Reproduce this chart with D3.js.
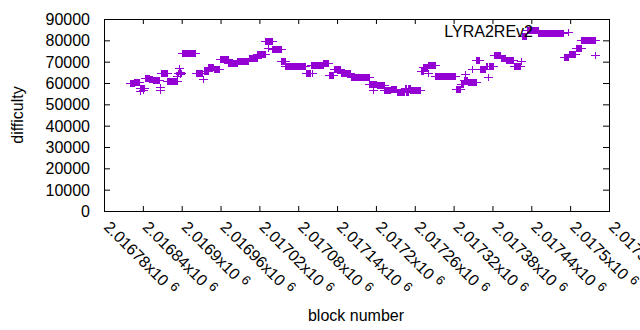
<!DOCTYPE html>
<html><head><meta charset="utf-8">
<script src="https://cdn.jsdelivr.net/npm/d3@7"></script>
<style>
body{margin:0;background:#fff}
svg{display:block}
text{font-family:"Liberation Sans",Arial,sans-serif;font-size:16px;fill:#000}
</style>
</head><body>
<svg width="640" height="330"></svg>
<script>
// ---- data ----
const seriesName = "LYRA2REv2";
const xLabel = "block number";
const yLabel = "difficulty";
const firstBlock = 2016820;          // block number of the first value below (one value per consecutive block)
const difficultyK = [                // difficulty, thousands
  60.1,60.1,60.1,60.1,60.1,60.1,60.1,
  60.7,60.7,60.7,60.7,60.7,60.7,60.7,60.7,
  56.2,57.5,57.5,57.5,57.5,56.7,57.5,57.5,
  62.5,62.5,62.5,62.5,62.5,62.5,62.5,
  62,62,62,62,62,
  61.5,61.5,61.5,61.5,61.5,61.5,61.5,61.5,61.5,61.5,61.5,
  58.1,56.6,
  64.5,64.5,64.5,64.5,64.5,64.5,64.5,64.5,64.5,64.5,
  60.8,60.8,60.8,60.8,60.8,60.8,60.8,60.8,60.8,60.8,60.8,60.8,60.8,60.8,
  60.9,63.5,64.8,64.5,66.8,65,64,64.8,
  74.2,74.2,74.2,74.2,74.2,74.2,74.2,74.2,74.2,74.2,74.2,74.2,74.2,74.2,74.2,74.2,74.2,74.2,74.2,74.2,74.2,74.2,
  64.8,64.8,64.8,64.8,64.8,64.8,64.8,64.8,64.8,64.8,64.8,62.1,
  65.7,65.7,65.7,65.7,65.7,65.7,65.7,
  67.5,67.5,67.5,67.5,67.5,67.5,67.5,67.5,67.5,
  66.7,66.7,66.7,66.7,66.7,66.7,66.7,66.7,66.7,71.4,
  71.3,71.3,71.3,71.3,71.3,71.3,71.3,71.3,71.3,71.3,71.3,71.3,
  69.2,69.2,69.2,69.2,69.2,69.2,69.2,69.2,69.2,69.2,69.2,69.2,69.2,69.2,
  70.4,70.4,70.4,70.4,70.4,70.4,70.4,70.4,70.4,70.4,70.4,70.4,70.4,70.4,70.4,70.4,70.4,70.4,
  71.8,71.8,71.8,71.8,71.8,71.8,71.8,71.8,71.8,71.8,71.8,71.8,71.8,
  73.5,73.5,73.5,73.5,73.5,73.5,73.5,73.5,73.5,73.5,73.5,73.5,
  79.5,79.5,79.5,79.5,79.5,76.5,79.5,79.5,79.5,79.5,79.5,
  75.9,75.9,75.9,75.9,75.9,75.9,75.9,75.9,75.9,75.9,75.9,75.9,75.9,75.9,
  70.1,70.1,70.1,70.1,70.1,70.1,
  67.8,67.8,67.8,67.8,67.8,67.8,67.8,67.8,67.8,67.8,
  67.8,67.8,67.8,67.8,67.8,67.8,67.8,67.8,67.8,67.8,
  67.8,67.8,67.8,67.8,67.8,67.8,67.8,67.8,67.8,67.8,
  67.8,67.8,
  64.8,64.8,64.8,64.8,64.8,64.8,64.8,
  68.5,68.5,68.5,64.8,68.5,68.5,68.5,68.5,68.5,68.5,68.5,68.5,68.5,68.5,68.5,68.5,68.5,68.5,68.5,68.5,
  69.6,69.6,69.6,69.6,69.6,69.6,69.6,69.6,
  63.8,63.8,63.8,63.8,63.8,63.8,63.8,63.8,
  66.5,66.5,66.5,66.5,66.5,66.5,66.5,66.5,66.5,66.5,66.5,
  64.8,64.8,64.8,64.8,64.8,64.8,64.8,64.8,64.8,64.8,64.8,64.8,64.8,64.8,64.8,
  62.8,62.8,62.8,62.8,62.8,62.8,62.8,62.8,62.8,62.8,
  62.8,62.8,62.8,62.8,62.8,62.8,62.8,62.8,62.8,62.8,
  62.8,62.8,62.8,62.8,62.8,62.8,62.8,62.8,62.8,
  59.3,59.3,59.3,59.3,59.3,56.7,59.3,59.3,59.3,59.3,59.3,
  59.1,59.1,59.1,59.1,59.1,59.1,59.1,59.1,59.1,59.1,59.1,59.1,
  56.5,56.5,56.5,56.5,56.5,56.5,56.5,56.5,56.5,56.5,
  57,57,57,57,57,57,57,57,57,
  55.8,55.8,55.8,55.8,55.8,55.8,55.8,55.8,55.8,55.8,55.8,55.8,55.8,
  57.5,55.8,57.5,55.8,57.5,55.8,57.5,57.5,
  56.7,56.7,56.7,56.7,56.7,56.7,56.7,56.7,56.7,56.7,56.7,56.7,56.7,56.7,56.7,56.7,
  65.5,65.5,65.5,65.5,
  67.5,67.5,67.5,67.5,67.5,67.5,67.5,
  64.8,
  68.3,68.3,68.3,68.3,68.3,68.3,68.3,68.3,68.3,68.3,68.3,
  63.1,63.1,63.1,63.1,63.1,63.1,63.1,63.1,63.1,63.1,
  63.1,63.1,63.1,63.1,63.1,63.1,63.1,63.1,63.1,63.1,
  63.1,63.1,63.1,63.1,63.1,63.1,63.1,63.1,63.1,63.1,
  63.1,
  57.1,57.1,57.1,57.1,57.1,57.1,57.1,57.1,
  59.5,59.5,59.5,59.5,59.5,
  61.5,61.5,64.3,61.5,61.5,61.5,
  60.7,60.7,60.7,60.7,60.7,60.7,66.4,60.7,60.7,60.7,60.7,60.7,60.7,
  70.7,70.7,70.7,70.7,70.7,
  66.5,66.5,66.5,66.5,66.5,66.5,66.5,66.5,66.5,66.5,
  67.9,67.9,67.9,62.8,67.9,67.9,67.9,67.9,67.9,67.9,67.9,67.9,
  72.9,72.9,72.9,72.9,72.9,72.9,72.9,72.9,72.9,72.9,72.9,
  71.5,71.5,71.5,71.5,71.5,71.5,71.5,71.5,
  70.6,70.6,70.6,70.6,70.6,70.6,70.6,70.6,70.6,70.6,70.6,70.6,
  68.2,68.2,68.2,68.2,68.2,68.2,68.2,68.2,68.2,68.2,68.2,70.2,
  82,82,82,82,82,82,82,82,
  84.8,84.8,84.8,84.8,84.8,84.8,84.8,84.8,84.8,84.8,84.8,84.8,84.8,84.8,84.8,84.8,84.8,84.8,
  83.5,83.5,83.5,83.5,83.5,83.5,83.5,83.5,83.5,83.5,
  83.5,83.5,83.5,83.5,83.5,83.5,83.5,83.5,83.5,83.5,
  83.5,83.5,83.5,83.5,83.5,83.5,83.5,83.5,83.5,83.5,
  83.5,83.5,83.5,83.5,83.5,83.5,83.5,83.5,83.5,
  72.1,72.1,72.1,72.1,72.1,72.1,72.1,72.1,
  73.8,73.8,73.8,73.8,73.8,73.8,73.8,73.8,73.8,73.8,73.8,
  76.5,76.5,76.5,76.5,76.5,76.5,76.5,76.5,
  80,80,80,80,80,80,80,80,80,80,80,80,80,80,80,80,80,80,80,80,80,80,
  72.9
];
const xTicks = [2016780,2016840,2016900,2016960,2017020,2017080,2017140,2017200,2017260,2017320,2017380,2017440,2017500,2017560];
const yTicks = [0,10000,20000,30000,40000,50000,60000,70000,80000,90000];

// ---- chart ----
const color = "#9400d3";
const svg = d3.select("svg");
const x = d3.scaleLinear().domain([xTicks[0], xTicks[xTicks.length-1]]).range([104, 609]);
const y = d3.scaleLinear().domain([0, 90000]).range([211, 19]);

function strip(g){ g.select(".domain").remove(); g.selectAll("text").remove(); g.selectAll("line").attr("stroke","#000"); }
svg.append("g").attr("transform","translate(0,211)").call(d3.axisBottom(x).tickValues(xTicks).tickSizeInner(-5).tickSizeOuter(0)).call(strip);
svg.append("g").attr("transform","translate(0,19)").call(d3.axisTop(x).tickValues(xTicks).tickSizeInner(-5).tickSizeOuter(0)).call(strip);
svg.append("g").attr("transform","translate(104,0)").call(d3.axisLeft(y).tickValues(yTicks).tickSizeInner(-6).tickSizeOuter(0)).call(strip);
svg.append("g").attr("transform","translate(609,0)").call(d3.axisRight(y).tickValues(yTicks).tickSizeInner(-6).tickSizeOuter(0)).call(strip);

svg.append("rect").attr("x",104.5).attr("y",19.5).attr("width",505).attr("height",192)
  .attr("fill","none").attr("stroke","#000").attr("stroke-width",1);

// y tick labels
svg.append("g").selectAll("text").data(yTicks).join("text")
  .attr("x", 90).attr("y", d => y(d) + 0.5).attr("dy","0.35em")
  .attr("text-anchor","end").text(d => d);

// x tick labels (rotated)
const xl = svg.append("g").selectAll("g").data(xTicks).join("g")
  .attr("transform", d => `translate(${x(d) - 1},${228}) rotate(45)`);
const xt = xl.append("text").attr("x",0).attr("y",0);
xt.append("tspan").text(d => String(+(d/1e6).toFixed(5)) + "x10");
xt.append("tspan").attr("dx",5).attr("dy",-5).attr("font-size","13px").text("6");

// axis titles
svg.append("text").attr("transform","translate(23,115) rotate(-90)").attr("text-anchor","middle").text(yLabel);
svg.append("text").attr("x",356).attr("y",321).attr("text-anchor","middle").text(xLabel);

// points
function plus(cx, cy){
  cx = Math.round(cx); cy = Math.round(cy);
  return `M${cx-4},${cy+0.5}H${cx+5}M${cx+0.5},${cy-3}V${cy+4}`;
}
const pts = difficultyK.map((v,i) => ({block:firstBlock+i, diff:v*1000}));
svg.append("g").selectAll("path").data(pts).join("path")
  .attr("d", d => plus(x(d.block), y(d.diff)))
  .attr("fill","none").attr("stroke",color).attr("stroke-width",1);

// legend
svg.append("text").attr("x",533).attr("y",37).attr("text-anchor","end").text(seriesName);
svg.append("path").attr("d", plus(568, 32)).attr("fill","none").attr("stroke",color).attr("stroke-width",1);
</script>
</body></html>
